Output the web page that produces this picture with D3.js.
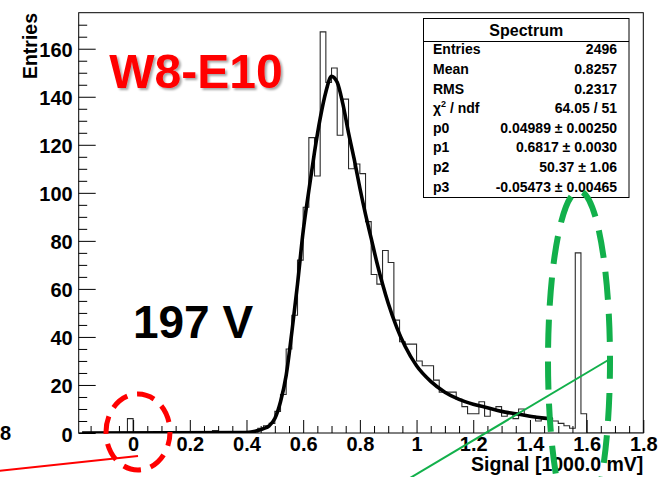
<!DOCTYPE html>
<html><head><meta charset="utf-8">
<script src="https://cdn.jsdelivr.net/npm/d3@7"></script>
<style>
body{margin:0;background:#fff}
svg{display:block}
text{font-family:"Liberation Sans",Arial,Helvetica,sans-serif;font-weight:bold}
</style>
</head><body>
<svg id="c" width="660" height="477"></svg>
<script>
// ---------- data ----------
const binLow = -0.2, binWidth = 0.02;
const counts = [
  0,0,0,0,0,0,0,0,0, 6,            // -0.20 .. -0.02
  0,0,0,0,0,0,0,0,0,0,0,0,0,0,     // 0.00 .. 0.26
  1,                               // 0.28
  0,0,0,0,0,0,0,                   // 0.30 .. 0.42
  2,3,4,9,16,35,49,72,94,123,      // 0.44 .. 0.62
  107,167,146,152,124,139,110,112,108,88, // 0.64 .. 0.82
  66,62,76,71,47,38,37,37,30,28,   // 0.84 .. 1.02
  28,22,17,17,17,14,11,8,8,13,     // 1.04 .. 1.22
  7,10,11,7,8,6,10,7,7,5,          // 1.24 .. 1.42
  6,6,5,4,3,2,75,8,                // 1.44 .. 1.58
  0,0,0,0,0,0,0,0,0,0              // 1.60 .. 1.78
];
const fitX = [-0.18,0.40,0.44,0.46,0.48,0.50,0.52,0.54,0.56,0.58,0.60,0.62,0.64,0.66,0.68,0.70,0.72,0.74,0.76,0.78,0.80,0.82,0.84,0.86,0.88,0.90,0.93,0.96,1.00,1.05,1.10,1.15,1.20,1.25,1.30,1.35,1.40,1.45,1.48];
const fitY = [0,0.2,1,1.8,3,6,13,24,42,62,84,101,117,131,142,148.5,146,137,125,114,102,91,81,71,62,54,44,36,28,21.5,17,14,12,10.5,9,8,7,6.2,5.8];

const xMajor = [0,0.2,0.4,0.6,0.8,1.0,1.2,1.4,1.6,1.8];
const xTickLabels = ["0","0.2","0.4","0.6","0.8","1","1.2","1.4","1.6","1.8"];
const yMajor = [0,20,40,60,80,100,120,140,160];
const yTickLabels = ["0","20","40","60","80","100","120","140","160"];

const statsTitle = "Spectrum";
const statsLabels = ["Entries","Mean","RMS","CHI","p0","p1","p2","p3"];
const statsValues = ["2496","0.8257","0.2317","64.05 / 51","0.04989 \u00b1 0.00250","0.6817 \u00b1 0.0030","50.37 \u00b1 1.06","-0.05473 \u00b1 0.00465"];

const xTitle = "Signal [1000.0 mV]";
const yTitle = "Entries";
const sampleName = "W8-E10";
const voltageLabel = "197 V";

// ---------- layout ----------
const svg = d3.select("#c");
const L = 78.7, R = 643.3, T = 12.7, B = 433;
const x = d3.scaleLinear().domain([-0.192, 1.8]).range([L, R]);
const y = d3.scaleLinear().domain([0, 175]).range([B, T]);

svg.append("rect").attr("width",660).attr("height",477).attr("fill","#fff");

const defs = svg.append("defs");
defs.append("clipPath").attr("id","plot").append("rect")
  .attr("x",L).attr("y",T).attr("width",R-L).attr("height",B-T);
const sh = defs.append("filter").attr("id","shadow").attr("x","-10%").attr("y","-10%").attr("width","130%").attr("height","140%");
sh.append("feDropShadow").attr("dx",2).attr("dy",2).attr("stdDeviation",1.2)
  .attr("flood-color","#000").attr("flood-opacity",0.35);

// frame
svg.append("rect").attr("x",L).attr("y",T).attr("width",R-L).attr("height",B-T)
  .attr("fill","none").attr("stroke","#000").attr("stroke-width",1);

// histogram
const steps = counts.map((c,i)=>[binLow + i*binWidth, c]);
steps.push([binLow + counts.length*binWidth, counts[counts.length-1]]);
svg.append("path")
  .attr("clip-path","url(#plot)")
  .attr("d", d3.line().x(d=>x(d[0])).y(d=>y(d[1])).curve(d3.curveStepAfter)(steps))
  .attr("fill","none").attr("stroke","#2a2a2a").attr("stroke-width",1.1);

// fit
svg.append("path")
  .attr("clip-path","url(#plot)")
  .attr("d", d3.line().x((d,i)=>x(fitX[i])).y((d,i)=>y(fitY[i])).curve(d3.curveMonotoneX)(fitX))
  .attr("fill","none").attr("stroke","#000").attr("stroke-width",3.6)
  .attr("stroke-linejoin","round");

// axes
const fontAx = '20px';
const gx = svg.append("g").attr("transform",`translate(0,${B})`)
  .call(d3.axisBottom(x).tickValues(xMajor).tickSize(-13).tickPadding(4)
    .tickFormat((d,i)=>xTickLabels[i]));
gx.select(".domain").remove();
gx.selectAll("text").attr("font-size",fontAx).attr("fill","#000")
  .style("font-family",'"Liberation Sans",Arial,sans-serif').style("font-weight","bold");
gx.selectAll("line").attr("stroke","#000");

const xMinor = d3.range(-0.15, 1.8, 0.05).filter(v=>xMajor.every(m=>Math.abs(m-v)>1e-6));
const gxm = svg.append("g").attr("transform",`translate(0,${B})`)
  .call(d3.axisBottom(x).tickValues(xMinor).tickSize(-7).tickFormat(""));
gxm.select(".domain").remove();
gxm.selectAll("line").attr("stroke","#000");

const gy = svg.append("g").attr("transform",`translate(${L},0)`)
  .call(d3.axisLeft(y).tickValues(yMajor).tickSize(-17).tickPadding(6)
    .tickFormat((d,i)=>yTickLabels[i]));
gy.select(".domain").remove();
gy.selectAll("text").attr("font-size",fontAx).attr("fill","#000").attr("dy","0.4em")
  .style("font-family",'"Liberation Sans",Arial,sans-serif').style("font-weight","bold");
gy.selectAll("line").attr("stroke","#000");

const yMinor = d3.range(5, 175, 5).filter(v=>v%20!==0);
const gym = svg.append("g").attr("transform",`translate(${L},0)`)
  .call(d3.axisLeft(y).tickValues(yMinor).tickSize(-8.5).tickFormat(""));
gym.select(".domain").remove();
gym.selectAll("line").attr("stroke","#000");

// axis titles
svg.append("text").attr("x",R).attr("y",471).attr("text-anchor","end")
  .attr("font-size","19.5px").attr("fill","#000").text(xTitle);
svg.append("text").attr("transform","translate(36.5,13) rotate(-90)").attr("text-anchor","end")
  .attr("font-size","19.5px").attr("fill","#000").text(yTitle);

// stray cropped label at far left
svg.append("text").attr("x",11).attr("y",433).attr("dy","0.36em").attr("text-anchor","end")
  .attr("font-size","20px").attr("fill","#000").text("8");

// stats box
const bx = 423.5, by = 18.5, bw = 205.5, bh = 179;
svg.append("rect").attr("x",bx).attr("y",by).attr("width",bw).attr("height",bh)
  .attr("fill","#fff").attr("stroke","#000").attr("stroke-width",1);
svg.append("line").attr("x1",bx).attr("x2",bx+bw).attr("y1",41.5).attr("y2",41.5)
  .attr("stroke","#000").attr("stroke-width",1);
svg.append("text").attr("x",bx+bw/2).attr("y",30.5).attr("dy","0.36em").attr("text-anchor","middle")
  .attr("font-size","16px").attr("fill","#000").text(statsTitle);
statsLabels.forEach((lab,i)=>{
  const cy = 49.3 + i*19.63;
  const t = svg.append("text").attr("x",433).attr("y",cy).attr("dy","0.36em")
    .attr("font-size","14px").attr("fill","#000");
  if (lab === "CHI") {
    t.append("tspan").text("\u03c7");
    t.append("tspan").attr("font-size","9px").attr("dy","-0.7em").text("2");
    t.append("tspan").attr("dy","0.45em").text(" / ndf");
  } else t.text(lab);
  svg.append("text").attr("x",617).attr("y",cy).attr("dy","0.36em").attr("text-anchor","end")
    .attr("font-size","14px").attr("fill","#000").text(statsValues[i]);
});

// big annotations
svg.append("text").attr("x",196).attr("y",88).attr("text-anchor","middle")
  .attr("font-size","48px").attr("fill","#ff0000").attr("filter","url(#shadow)").text(sampleName);
svg.append("text").attr("x",193).attr("y",338).attr("text-anchor","middle")
  .attr("font-size","46px").attr("fill","#000").text(voltageLabel);

// red marker: line + dashed circle
svg.append("line").attr("x1",-2).attr("y1",471).attr("x2",138).attr("y2",456)
  .attr("stroke","#ff0000").attr("stroke-width",2);
svg.append("ellipse").attr("cx",138).attr("cy",432).attr("rx",32).attr("ry",38)
  .attr("fill","none").attr("stroke","#ff0000").attr("stroke-width",5)
  .attr("stroke-dasharray","18 10").attr("stroke-dashoffset",4);

// green marker: line + dashed ellipse
svg.append("line").attr("x1",405).attr("y1",481).attr("x2",610).attr("y2",359)
  .attr("stroke","#12b04b").attr("stroke-width",2);
svg.append("ellipse").attr("cx",579).attr("cy",361).attr("rx",31).attr("ry",170)
  .attr("fill","none").attr("stroke","#12b04b").attr("stroke-width",6)
  .attr("stroke-dasharray","28 14").attr("stroke-dashoffset",10);
</script>
</body></html>
